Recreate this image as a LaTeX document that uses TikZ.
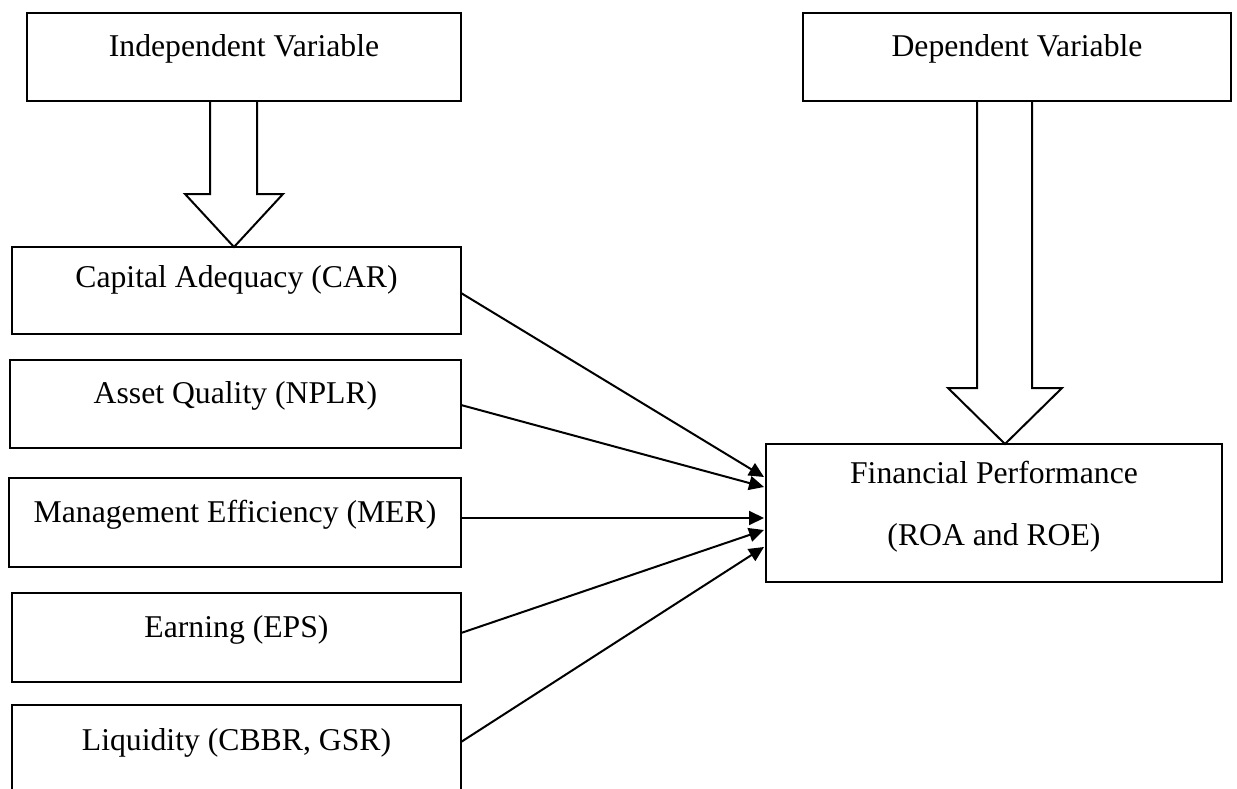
\documentclass[tikz,border=0pt]{standalone}
\usepackage{fontspec}
\setmainfont{Liberation Serif}
\usetikzlibrary{arrows.meta,calc}
\begin{document}
\begin{tikzpicture}[x=1pt,y=-1pt,
 box/.style={draw, line width=2pt, rectangle, inner sep=0pt, outer sep=0pt},
 lbl/.style={anchor=base, inner sep=0pt, font=\fontsize{31.7}{38}\selectfont},
 conn/.style={line width=2pt, -{Triangle[length=15pt,width=14pt]}},
 blockarrow/.style={draw, line width=2pt, line join=miter}]
\useasboundingbox (0,0) rectangle (1237,789);
\clip (0,0) rectangle (1237,789);
% boxes
\node[box, minimum width=434pt, minimum height=88pt] (ind) at (244,57) {};
\node[box, minimum width=428pt, minimum height=88pt] (dep) at (1017,57) {};
\node[box, minimum width=449pt, minimum height=87pt] (car) at (236.5,290.5) {};
\node[box, minimum width=451pt, minimum height=88pt] (nplr) at (235.5,404) {};
\node[box, minimum width=452pt, minimum height=89pt] (mer) at (235,522.5) {};
\node[box, minimum width=449pt, minimum height=89pt] (eps) at (236.5,637.5) {};
\node[box, minimum width=449pt, minimum height=100pt] (liq) at (236.5,755) {};
\node[box, minimum width=456pt, minimum height=138pt] (fin) at (994,513) {};
% labels
\node[lbl] (indt) at (244,57) {Independent Variable};
\node[lbl] (dept) at (1017,57) {Dependent Variable};
\node[lbl] (cart) at (236.5,287) {Capital Adequacy (CAR)};
\node[lbl] (nplrt) at (235.5,403) {Asset Quality (NPLR)};
\node[lbl] (mert) at (235,522) {Management Efficiency (MER)};
\node[lbl] (epst) at (236.5,637) {Earning (EPS)};
\node[lbl] (liqt) at (236.5,750) {Liquidity (CBBR, GSR)};
\node[lbl] (fint1) at (994,483) {Financial Performance};
\node[lbl] (fint2) at (994,545) {(ROA and ROE)};
% block arrows
\draw[blockarrow] ($(ind.south)+(-34,0)$) -- ($(ind.south)+(-34,93)$) -- ($(ind.south)+(-59,93)$)
  -- ($(car.north)+(-2.5,0)$) -- ($(ind.south)+(39,93)$) -- ($(ind.south)+(13,93)$) -- ($(ind.south)+(13,0)$);
\draw[blockarrow] ($(dep.south)+(-40,0)$) -- ($(dep.south)+(-40,287)$) -- ($(dep.south)+(-69,287)$)
  -- ($(fin.north)+(11,0)$) -- ($(dep.south)+(45,287)$) -- ($(dep.south)+(15,287)$) -- ($(dep.south)+(15,0)$);
% connectors
\draw[conn] ($(car.east)+(0,2.5)$) -- ($(fin.west)+(-2,-36)$);
\draw[conn] ($(nplr.east)+(0,1)$) -- ($(fin.west)+(-2,-26)$);
\draw[conn] ($(mer.east)+(0,-4.5)$) -- ($(fin.west)+(-2,5)$);
\draw[conn] ($(eps.east)+(0,-4.5)$) -- ($(fin.west)+(-2,17)$);
\draw[conn] ($(liq.east)+(0,-13)$) -- ($(fin.west)+(-2,34)$);
\end{tikzpicture}
\end{document}
